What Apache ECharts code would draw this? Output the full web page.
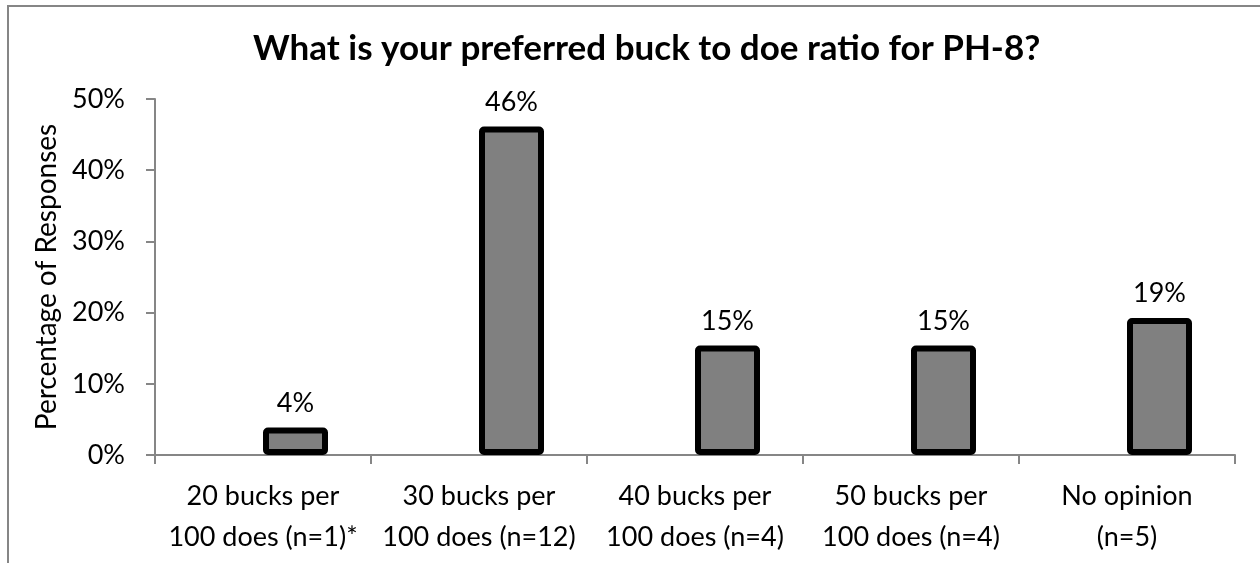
<!DOCTYPE html>
<html>
<head>
<meta charset="utf-8">
<script src="https://cdn.jsdelivr.net/npm/echarts@6/dist/echarts.min.js"></script>
<style>
html,body{margin:0;padding:0;background:#fff;}
#chart{width:1260px;height:563px;}
</style>
</head>
<body>
<div id="chart"></div>
<script>
const titleText = 'What is your preferred buck to doe ratio for PH-8?';
const categories = ['20 bucks per\n100 does (n=1)*', '30 bucks per\n100 does (n=12)', '40 bucks per\n100 does (n=4)', '50 bucks per\n100 does (n=4)', 'No opinion\n(n=5)'];
const values = [3.85, 46.15, 15.38, 15.38, 19.23];
const emptySeries = [null, null, null, null, null];
const yTicks = [0, 10, 20, 30, 40, 50];
const yAxisName = 'Percentage of Responses';

const FONT = 'Lato';
const chart = echarts.init(document.getElementById('chart'), null, {renderer: 'canvas'});
chart.setOption({
  animation: false,
  backgroundColor: '#ffffff',
  textStyle: {fontFamily: FONT, color: '#000'},
  title: {
    text: titleText,
    left: 248,
    top: 26,
    textStyle: {fontFamily: FONT, fontSize: 35, fontWeight: 'bold', color: '#000'}
  },
  graphic: [{
    type: 'rect',
    shape: {x: 8, y: 6, width: 1400, height: 700},
    style: {fill: 'none', stroke: '#868686', lineWidth: 2},
    silent: true
  }],
  grid: {left: 155, right: 25, top: 99, bottom: 108, containLabel: false},
  xAxis: {
    type: 'category',
    data: categories,
    axisLine: {lineStyle: {color: '#868686', width: 2}},
    axisTick: {show: true, length: 9, lineStyle: {color: '#868686', width: 2}},
    axisLabel: {interval: 0, color: '#000', fontFamily: FONT, fontSize: 27, lineHeight: 41, margin: 21}
  },
  yAxis: {
    type: 'value',
    min: yTicks[0],
    max: yTicks[yTicks.length - 1],
    interval: 10,
    name: yAxisName,
    nameLocation: 'middle',
    nameGap: 92,
    nameRotate: 90,
    nameTextStyle: {fontFamily: FONT, fontSize: 28, color: '#000'},
    axisLine: {show: true, lineStyle: {color: '#868686', width: 2}},
    axisTick: {show: true, length: 9, lineStyle: {color: '#868686', width: 2}},
    splitLine: {show: false},
    axisLabel: {color: '#000', fontFamily: FONT, fontSize: 27, margin: 30, formatter: v => v + '%'}
  },
  series: [
    {type: 'bar', data: emptySeries, barWidth: 65, barGap: '0%'},
    {
      type: 'bar',
      data: values,
      barWidth: 65,
      barGap: '0%',
      itemStyle: {color: '#808080', borderColor: '#000', borderWidth: 6, borderRadius: 2},
      label: {
        show: true,
        position: 'top',
        distance: 11,
        color: '#000',
        fontFamily: FONT,
        fontSize: 27,
        formatter: p => Math.round(p.value) + '%'
      }
    }
  ]
});
</script>
</body>
</html>
